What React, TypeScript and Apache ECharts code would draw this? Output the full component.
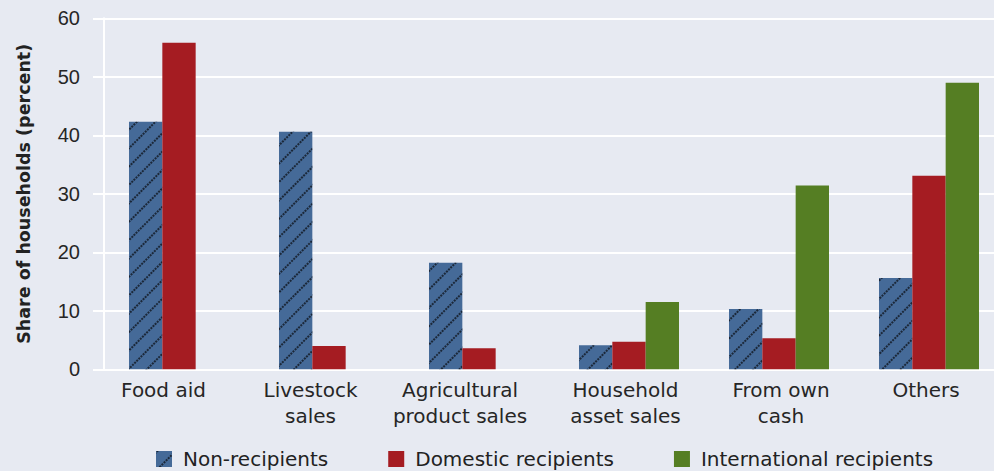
import React, { useEffect, useRef } from "react";
import * as echarts from "echarts";

const categories = [
  "Food aid",
  "Livestock\nsales",
  "Agricultural\nproduct sales",
  "Household\nasset sales",
  "From own\ncash",
  "Others",
];
const seriesNames = ["Non-recipients", "Domestic recipients", "International recipients"];
const nonRecipients = [42.3, 40.6, 18.2, 4.1, 10.3, 15.6];
const domesticRecipients = [55.8, 4.0, 3.6, 4.7, 5.3, 33.1];
const internationalRecipients = [0, 0, 0, 11.5, 31.4, 49.0];
const yTicks = { min: 0, max: 60, interval: 10 };
const yAxisTitle = "Share of households (percent)";

// label horizontal paddings [left, right] to mimic original centering
const labelPads: number[][] = [
  [0, 31],
  [0, 37],
  [0, 38],
  [0, 7],
  [4, 0],
  [0, 6],
];

const COLORS = ["#456a98", "#a51c22", "#557e23"];
const BG = "#e7eaf2";
const FONT = "DejaVu Sans";

export default function App() {
  const ref = useRef<HTMLDivElement>(null);
  useEffect(() => {
    document.body.style.margin = "0";
    const chart = echarts.init(ref.current!, null, { renderer: "svg" });
    const decal = {
      symbol: "rect",
      symbolSize: 1,
      color: "rgba(20,28,40,0.85)",
      dashArrayX: [2, 1],
      dashArrayY: [1.2, 11],
      rotation: -Math.PI / 4,
    };
    const values = [nonRecipients, domesticRecipients, internationalRecipients];
    chart.setOption({
      animation: false,
      backgroundColor: BG,
      textStyle: { fontFamily: FONT },
      grid: { left: 104, right: 6, top: 18.3, bottom: 101.7, containLabel: false },
      legend: {
        left: 156,
        top: 449,
        padding: 0,
        itemWidth: 16,
        itemHeight: 16,
        itemGap: 60,
        icon: "rect",
        textStyle: { fontFamily: FONT, fontSize: 20, color: "#222", padding: [0, 0, 0, 6] },
        data: seriesNames,
      },
      xAxis: {
        type: "category",
        data: categories.map((c, i) => ({
          value: c,
          textStyle: { padding: [0, labelPads[i][1], 0, labelPads[i][0]] },
        })),
        axisLine: { show: true, lineStyle: { color: "#ffffff", width: 2 } },
        axisTick: { show: false },
        axisLabel: {
          fontFamily: FONT,
          fontSize: 20,
          color: "#262626",
          lineHeight: 26,
          margin: 8,
          interval: 0,
        },
      },
      yAxis: {
        type: "value",
        min: yTicks.min,
        max: yTicks.max,
        interval: yTicks.interval,
        name: yAxisTitle,
        nameLocation: "middle",
        nameGap: 71,
        nameTextStyle: { fontFamily: FONT, fontSize: 17.5, fontWeight: "bold", color: "#222" },
        axisLine: { show: true, lineStyle: { color: "#ffffff", width: 2 } },
        axisTick: { show: true, length: 11, lineStyle: { color: "#ffffff", width: 2 } },
        axisLabel: { fontFamily: "Liberation Sans", fontSize: 20, color: "#262626", margin: 24 },
        splitLine: { show: true, lineStyle: { color: "#ffffff", width: 2 } },
      },
      series: seriesNames.map((name, i) => ({
        name,
        type: "bar",
        data: values[i],
        barGap: "0%",
        barCategoryGap: "33.333%",
        itemStyle: {
          color: COLORS[i],
          ...(i === 0 ? { decal } : {}),
        },
      })),
    });
    return () => chart.dispose();
  }, []);
  return (
    <div
      style={{
        position: "fixed",
        left: 0,
        top: 0,
        width: 994,
        height: 471,
        overflow: "hidden",
        background: BG,
      }}
    >
      <div ref={ref} style={{ width: 1010, height: 471 }} />
    </div>
  );
}
